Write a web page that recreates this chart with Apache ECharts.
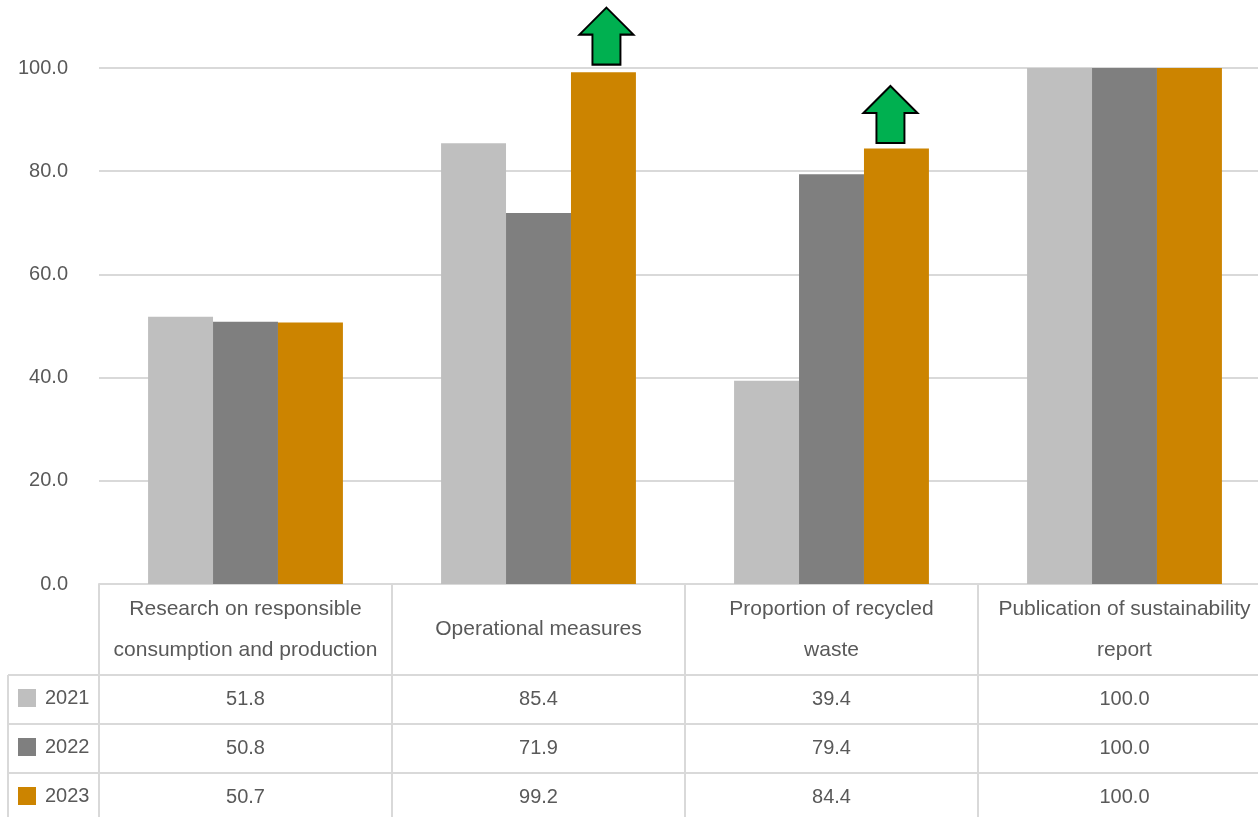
<!DOCTYPE html>
<html>
<head>
<meta charset="utf-8">
<script src="https://cdn.jsdelivr.net/npm/echarts@6/dist/echarts.min.js"></script>
<style>html,body{margin:0;padding:0;background:#fff}#c{width:1258px;height:817px}</style>
</head>
<body>
<div id="c"></div>
<script>
const categories = ['Research on responsible consumption and production', 'Operational measures', 'Proportion of recycled waste', 'Publication of sustainability report'];
const categoryLabels = ['Research on responsible\nconsumption and production', 'Operational measures', 'Proportion of recycled\nwaste', 'Publication of sustainability\nreport'];
const years = ['2021', '2022', '2023'];
const s2021 = [51.8, 85.4, 39.4, 100.0];
const s2022 = [50.8, 71.9, 79.4, 100.0];
const s2023 = [50.7, 99.2, 84.4, 100.0];
const yTicks = [0, 20, 40, 60, 80, 100];
const improvedIdx = [1, 2];

const colors = ['#BFBFBF', '#7F7F7F', '#CC8400'];
const seriesData = [s2021, s2022, s2023];
const txt = '#595959';
const lineC = '#D9D9D9';
const font = 'Liberation Sans, Arial, sans-serif';

const chart = echarts.init(document.getElementById('c'), null, {renderer: 'canvas'});

const rowOffsets = [115.5, 164.5, 213.5];
const valueAxes = seriesData.map((arr, i) => ({
  type: 'category', gridIndex: 0, position: 'bottom', offset: rowOffsets[i],
  data: arr.map(v => v.toFixed(1)),
  axisLine: {show: false}, axisTick: {show: false}, splitLine: {show: false},
  axisLabel: {interval: 0, margin: 0, verticalAlign: 'middle', color: txt, fontSize: 20, fontFamily: font}
}));

const arrowPath = 'path://M27,0 L54,27 L41,27 L41,57 L13,57 L13,27 L0,27 Z';
const arrowOffsets = [[3, -36], [-6, -34]];

const graphicLines = [];
function hl(y, x1, x2){ graphicLines.push({type:'line', shape:{x1:x1,y1:y,x2:x2,y2:y}, style:{stroke:lineC, lineWidth:2}, silent:true}); }
function vl(x, y1, y2){ graphicLines.push({type:'line', shape:{x1:x,y1:y1,x2:x,y2:y2}, style:{stroke:lineC, lineWidth:2}, silent:true}); }
hl(675, 8, 1258); hl(724, 8, 1258); hl(773, 8, 1258);
[99, 392, 685, 978].forEach(x => vl(x, 584, 817));
vl(8, 675, 817);

const legendTops = [688, 737, 786];

chart.setOption({
  animation: false,
  backgroundColor: '#fff',
  textStyle: {fontFamily: font},
  grid: {left: 99, right: -13, top: 68, bottom: 233, containLabel: false, outerBoundsMode: 'none'},
  legend: years.map((y, i) => ({
    data: [y], orient: 'horizontal', left: 18, top: legendTops[i], padding: 0,
    itemWidth: 18, itemHeight: 18, icon: 'rect', selectedMode: false,
    textStyle: {color: txt, fontSize: 20, fontFamily: font, padding: [0, 0, 0, 4]}
  })),
  xAxis: [{
    type: 'category', data: categories, gridIndex: 0, position: 'bottom',
    axisLine: {show: true, lineStyle: {color: lineC, width: 2}},
    axisTick: {show: false},
    splitLine: {show: false},
    axisLabel: {
      interval: 0, margin: 45.5, verticalAlign: 'middle', lineHeight: 41,
      color: txt, fontSize: 21, fontFamily: font,
      formatter: (v, i) => categoryLabels[i]
    }
  }].concat(valueAxes),
  yAxis: {
    type: 'value', min: yTicks[0], max: yTicks[yTicks.length - 1], interval: 20,
    axisLine: {show: false}, axisTick: {show: false},
    splitLine: {lineStyle: {color: lineC, width: 2}},
    axisLabel: {margin: 31, color: txt, fontSize: 20, fontFamily: font, formatter: v => v.toFixed(1)}
  },
  series: years.map((y, i) => {
    const s = {
      name: y, type: 'bar', xAxisIndex: 0, data: seriesData[i],
      barGap: '0%', barCategoryGap: '33.5%',
      itemStyle: {color: colors[i]}
    };
    if (i === 2) {
      s.markPoint = {
        symbol: arrowPath, symbolSize: [54, 57],
        itemStyle: {color: '#00B050', borderColor: '#000', borderWidth: 2},
        label: {show: false}, silent: true,
        data: improvedIdx.map((k, j) => ({coord: [categories[k], s2023[k]], symbolOffset: arrowOffsets[j]}))
      };
    }
    return s;
  }),
  graphic: graphicLines
});
</script>
</body>
</html>
